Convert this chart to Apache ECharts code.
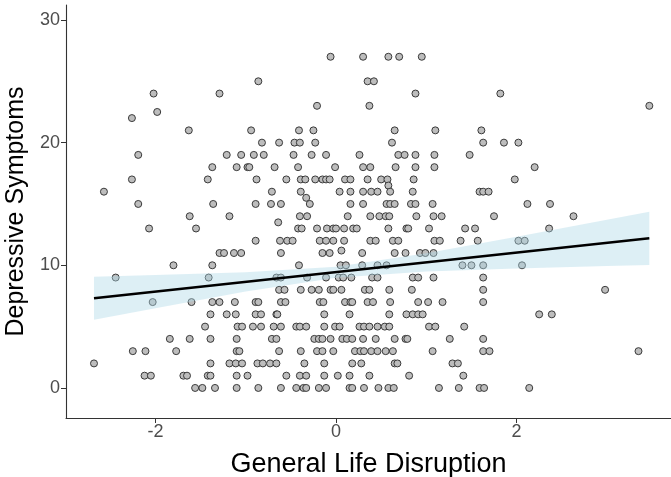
<!DOCTYPE html>
<html><head><meta charset="utf-8">
<script src="https://cdn.jsdelivr.net/npm/echarts@6/dist/echarts.min.js"></script>
<style>html,body{margin:0;padding:0;background:#fff}#c{width:671px;height:477px}</style>
</head><body><div id="c"></div>
<script>
// Depressive symptom score (rows) and the General Life Disruption values read for each row
const rowScores = [27, 25, 24, 23, 22.5, 22, 21, 20, 19, 18, 17, 16.5, 16, 15.5, 15, 14, 13.5, 13, 12, 11.2, 11, 10, 9, 8, 7, 6, 5, 4, 3, 2, 1, 0];
const rowDisruption = [
  [-0.06, 0.30, 0.58, 0.70, 0.95],
  [-0.86, 0.35, 0.42],
  [-2.02, -1.29, 0.88, 1.82],
  [-0.21, 0.37, 3.47],
  [-1.98],
  [-2.26],
  [-1.63, -0.94, -0.41, -0.25, 0.65, 1.10, 1.61],
  [-0.82, -0.63, -0.46, -0.40, -0.23, 0.62, 1.63, 1.86, 2.02],
  [-2.19, -1.21, -1.05, -0.91, -0.80, -0.47, -0.27, -0.11, 0.26, 0.69, 0.76, 0.88, 1.09, 1.48],
  [-1.37, -1.10, -0.98, -0.96, -0.68, -0.42, -0.01, 0.30, 0.38, 0.66, 0.88, 1.09, 2.20],
  [-2.26, -1.42, -0.88, -0.55, -0.39, -0.34, -0.23, -0.15, -0.11, -0.07, 0.10, 0.16, 0.35, 0.50, 0.57, 0.86, 1.98],
  [0.58],
  [-2.57, -0.71, -0.39, 0.04, 0.16, 0.30, 0.39, 0.46, 0.60, 0.85, 1.59, 1.63, 1.69],
  [-0.33],
  [-2.19, -1.36, -0.89, -0.72, -0.61, -0.29, 0.16, 0.30, 0.56, 0.60, 0.65, 0.83, 0.88, 1.07, 2.12, 2.37],
  [-1.62, -1.18, -0.40, -0.32, 0.13, 0.38, 0.48, 0.55, 0.59, 0.89, 1.08, 1.17, 1.75, 2.63],
  [-0.64],
  [-2.07, -1.55, -0.42, -0.38, -0.21, -0.10, -0.03, 0.00, 0.09, 0.19, 0.23, 0.58, 0.78, 0.80, 1.03, 1.43, 1.54, 2.36],
  [-0.89, -0.62, -0.54, -0.48, -0.18, -0.11, -0.03, 0.09, 0.38, 0.44, 0.63, 0.69, 1.09, 1.15, 1.38, 1.57, 2.02, 2.09],
  [0.06],
  [-1.29, -1.24, -1.13, -1.05, -0.61, -0.15, -0.07, 0.29, 0.65, 0.77, 0.93, 0.99, 1.08],
  [-1.80, -1.37, -0.41, 0.05, 0.11, 0.29, 0.46, 0.56, 1.40, 1.50, 1.63, 2.06],
  [-2.44, -1.41, -0.66, -0.61, -0.32, -0.11, 0.03, 0.08, 0.17, 0.40, 0.46, 0.85, 0.91, 1.08, 1.63],
  [-0.63, -0.57, -0.39, -0.27, -0.19, -0.06, -0.03, 0.06, 0.32, 0.37, 0.59, 0.84, 1.63, 2.98],
  [-2.03, -1.60, -1.37, -1.29, -1.12, -0.89, -0.86, -0.61, -0.56, -0.18, -0.14, 0.10, 0.16, 0.18, 0.35, 0.41, 0.60, 0.91, 1.02, 1.18, 1.63],
  [-1.39, -1.21, -1.11, -0.89, -0.83, -0.66, -0.65, -0.13, 0.15, 0.59, 0.78, 0.85, 0.91, 0.96, 2.25, 2.39],
  [-1.45, -1.09, -1.04, -0.92, -0.83, -0.69, -0.61, -0.44, -0.40, -0.33, -0.13, -0.01, 0.04, 0.26, 0.31, 0.37, 0.46, 0.54, 0.59, 1.03, 1.10, 1.42],
  [-1.84, -1.62, -1.39, -1.10, -0.71, -0.66, -0.24, -0.19, -0.15, -0.06, 0.07, 0.12, 0.18, 0.30, 0.44, 0.65, 0.77, 0.79, 1.26, 1.63],
  [-2.25, -2.11, -1.77, -1.10, -1.07, -0.63, -0.39, -0.21, -0.15, -0.03, 0.21, 0.27, 0.31, 0.39, 0.46, 0.55, 0.63, 1.07, 1.63, 1.70, 3.35],
  [-2.68, -1.39, -1.18, -1.11, -1.04, -0.87, -0.81, -0.73, -0.66, -0.35, -0.13, 0.18, 0.28, 0.65, 0.68, 1.29, 1.35],
  [-2.12, -2.05, -1.69, -1.65, -1.42, -1.39, -1.10, -0.98, -0.55, -0.40, -0.33, -0.13, 0.02, 0.15, 0.37, 0.81, 1.41],
  [-1.56, -1.48, -1.34, -1.10, -0.86, -0.61, -0.44, -0.36, -0.33, -0.19, -0.11, 0.15, 0.18, 0.31, 0.47, 0.58, 0.64, 1.14, 1.36, 1.59, 1.64, 2.14]
];

// Fitted regression line end points
const fitX = [-2.68, 3.47];
const fitY = [7.31, 12.20];

// Confidence band read at several x positions
const bandX = [-2.68, -2, -1, 0, 1, 2, 3, 3.47];
const bandLower = [5.56, 6.50, 7.86, 8.99, 9.50, 9.74, 9.95, 10.03];
const bandUpper = [9.06, 9.20, 9.44, 9.89, 10.98, 12.32, 13.71, 14.37];

// Axis ticks
const xTicks = [-2, 0, 2];
const yTicks = [0, 10, 20, 30];

const points = [];
rowScores.forEach((s, i) => rowDisruption[i].forEach(x => points.push([x, s])));

const bandPoly = [];
bandX.forEach((x, i) => bandPoly.push([x, bandUpper[i]]));
for (let i = bandX.length - 1; i >= 0; i--) bandPoly.push([bandX[i], bandLower[i]]);

const chart = echarts.init(document.getElementById('c'));
const font = 'Liberation Sans, Arial, sans-serif';
chart.setOption({
  animation: false,
  backgroundColor: '#fff',
  grid: { left: 66, right: 0, top: 5, bottom: 59, containLabel: false, outerBoundsMode: 'none' },
  xAxis: {
    type: 'value', min: -2.99, max: 3.71,
    splitLine: { show: false },
    axisLine: { show: true, onZero: false, lineStyle: { color: '#333', width: 1.1 } },
    axisTick: { show: true, length: 5, customValues: xTicks, lineStyle: { color: '#333' } },
    axisLabel: { customValues: xTicks, color: '#4d4d4d', fontSize: 18, fontFamily: font, margin: 5,
      formatter: v => (v < 0 ? '-' : '') + Math.abs(v) },
    name: 'General Life Disruption', nameLocation: 'middle', nameGap: 33,
    nameTextStyle: { color: '#000', fontSize: 27, fontFamily: font }
  },
  yAxis: {
    type: 'value', min: -2.45, max: 31.22,
    splitLine: { show: false },
    axisLine: { show: true, onZero: false, lineStyle: { color: '#333', width: 1.1 } },
    axisTick: { show: true, length: 5, customValues: yTicks, lineStyle: { color: '#333' } },
    axisLabel: { customValues: yTicks, color: '#4d4d4d', fontSize: 18, fontFamily: font, margin: 6 },
    name: 'Depressive Symptoms', nameLocation: 'middle', nameGap: 35,
    nameTextStyle: { color: '#000', fontSize: 25, fontFamily: font }
  },
  series: [
    {
      type: 'scatter', data: points, symbol: 'circle', symbolSize: 7, z: 2,
      itemStyle: { color: '#bdbdbd', borderColor: '#3a3a3a', borderWidth: 1, opacity: 1 }
    },
    {
      type: 'custom', z: 3, silent: true,
      data: [0],
      renderItem: (params, api) => ({
        type: 'polygon',
        shape: { points: bandPoly.map(p => api.coord(p)) },
        style: { fill: 'rgba(173,216,230,0.42)', stroke: 'none' }
      })
    },
    {
      type: 'line', z: 4, symbol: 'none',
      data: fitX.map((x, i) => [x, fitY[i]]),
      lineStyle: { color: '#000', width: 2.4 }
    }
  ]
});
</script></body></html>
